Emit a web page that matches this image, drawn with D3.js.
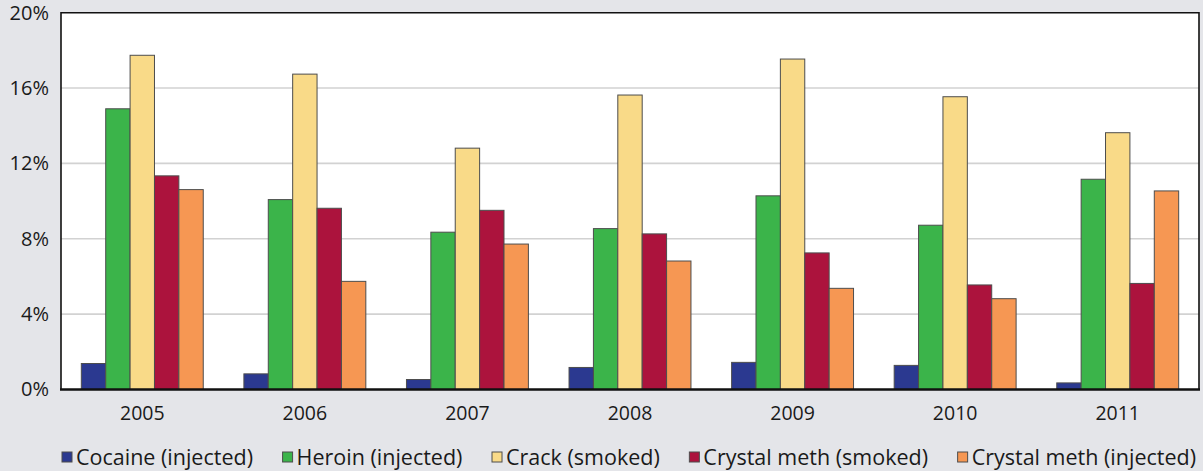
<!DOCTYPE html>
<html>
<head>
<meta charset="utf-8">
<script src="https://cdn.jsdelivr.net/npm/d3@7"></script>
<style>
  html, body { margin: 0; padding: 0; background: #e4e5e9; }
  svg { display: block; }
  text { font-family: "Open Sans", "Noto Sans", sans-serif; fill: #1a1a1a; }
</style>
</head>
<body>
<svg id="chart" width="1203" height="471"></svg>
<script>
const years = ["2005", "2006", "2007", "2008", "2009", "2010", "2011"];
const seriesNames = ["Cocaine (injected)", "Heroin (injected)", "Crack (smoked)", "Crystal meth (smoked)", "Crystal meth (injected)"];
const cocaineInjected = [1.38, 0.83, 0.53, 1.17, 1.44, 1.28, 0.35];
const heroinInjected = [14.90, 10.08, 8.35, 8.54, 10.28, 8.72, 11.16];
const crackSmoked = [17.74, 16.74, 12.81, 15.63, 17.54, 15.54, 13.63];
const methSmoked = [11.34, 9.62, 9.51, 8.26, 7.25, 5.55, 5.63];
const methInjected = [10.61, 5.74, 7.72, 6.82, 5.37, 4.82, 10.54];
const yTicks = [0, 4, 8, 12, 16, 20];
const colors = ["#2b3990", "#3bb44a", "#f9da88", "#ac133d", "#f69753"];

const seriesValues = [cocaineInjected, heroinInjected, crackSmoked, methSmoked, methInjected];

const svg = d3.select("#chart");
const pLeft = 61, pRight = 1199, pTop = 12.7, pBottom = 389.5;

// plot background
svg.append("rect").attr("x", pLeft).attr("y", pTop).attr("width", pRight - pLeft).attr("height", pBottom - pTop).attr("fill", "#ffffff");

const y = d3.scaleLinear().domain([0, 20]).range([pBottom, pTop]);
const x0 = d3.scaleBand().domain(years).range([pLeft, pRight]).paddingInner(0.25).paddingOuter(0.125);
const x1 = d3.scaleBand().domain(seriesNames).range([0, x0.bandwidth()]);

// gridlines
svg.append("g").selectAll("line").data(yTicks.filter(t => t > 0 && t < 20)).join("line")
  .attr("x1", pLeft).attr("x2", pRight)
  .attr("y1", d => y(d)).attr("y2", d => y(d))
  .attr("stroke", "#d2d2d2").attr("stroke-width", 1.6);

// bars
const groups = svg.append("g").selectAll("g").data(years).join("g")
  .attr("transform", d => `translate(${x0(d)},0)`);
groups.selectAll("rect").data((yr, i) => seriesNames.map((s, j) => ({ s, j, v: seriesValues[j][i] }))).join("rect")
  .attr("x", d => x1(d.s))
  .attr("y", d => y(d.v))
  .attr("width", x1.bandwidth())
  .attr("height", d => y(0) - y(d.v))
  .attr("fill", d => colors[d.j])
  .attr("stroke", "#4d4d4d")
  .attr("stroke-width", 1);

// frame
svg.append("path")
  .attr("d", `M${pLeft},${pBottom}V${pTop}H${pRight}V${pBottom}`)
  .attr("fill", "none").attr("stroke", "#111").attr("stroke-width", 1.6);
svg.append("line").attr("x1", pLeft - 1).attr("x2", pRight + 1).attr("y1", pBottom).attr("y2", pBottom)
  .attr("stroke", "#111").attr("stroke-width", 2.6);

// y axis labels
const yAxis = d3.axisLeft(y).tickValues(yTicks).tickFormat(d => d + "%").tickSize(0).tickPadding(12);
const ya = svg.append("g").attr("transform", `translate(${pLeft},0)`).call(yAxis);
ya.select(".domain").remove();
ya.selectAll("text").attr("font-size", 20).attr("font-family", '"Open Sans", sans-serif').attr("fill", "#1a1a1a");

// x axis labels
const xAxis = d3.axisBottom(x0).tickSize(0).tickPadding(17);
const xa = svg.append("g").attr("transform", `translate(0,${pBottom})`).call(xAxis);
xa.select(".domain").remove();
xa.selectAll("text").attr("font-size", 19.5).attr("font-family", '"Open Sans", sans-serif').attr("fill", "#1a1a1a");

// legend (justified across the plot width)
const legend = svg.append("g");
const items = legend.selectAll("g").data(seriesNames).join("g");
items.append("rect").attr("x", 0).attr("y", 452).attr("width", 10).attr("height", 10)
  .attr("fill", (d, i) => colors[i]).attr("stroke", "#4d4d4d").attr("stroke-width", 1);
items.append("text").attr("x", 14).attr("y", 465).attr("font-size", 21.5).text(d => d);
const widths = [];
items.each(function () { widths.push(this.getBBox().width); });
const total = d3.sum(widths);
const gap = (1196 - 62 - total) / (seriesNames.length - 1);
let cx = 62;
items.attr("transform", (d, i) => { const t = `translate(${cx},0)`; cx += widths[i] + gap; return t; });
</script>
</body>
</html>
